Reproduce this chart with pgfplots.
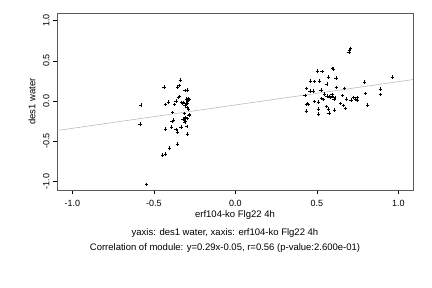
\documentclass[border=0pt]{standalone}
\usepackage{fontspec}
\setmainfont{Liberation Sans}
\usepackage{pgfplots}
\pgfplotsset{compat=1.18}
\begin{document}
\begin{tikzpicture}[x=1pt,y=1pt]
\path[use as bounding box] (0,0) rectangle (432,288);
\begin{axis}[
  at={(57pt,98pt)}, anchor=south west,
  scale only axis, width=356pt, height=177pt,
  xmin=-1.094, xmax=1.09, ymin=-1.106, ymax=1.093,
  axis line style={black!65, line width=0.5pt},
  xtick={-1,-0.5,0,0.5,1}, ytick={-1,-0.5,0,0.5,1},
  tick align=outside, xtick pos=bottom, ytick pos=left,
  major tick length=4pt,
  tick style={black, line width=0.4pt},
  /pgf/number format/assume math mode=true,
  xticklabel={\pgfmathprintnumber[fixed,fixed zerofill,precision=1]{\tick}},
  yticklabel={\pgfmathprintnumber[fixed,fixed zerofill,precision=1]{\tick}},
  ticklabel style={font=\fontsize{9}{10}\selectfont},
  yticklabel style={rotate=90, anchor=south},
  xticklabel style={yshift=-2.5pt},
  clip=true,
]
\addplot[black!30, line width=0.5pt] coordinates {(-1.094,-0.367) (1.09,0.266)};
\addplot[only marks, mark=+, mark size=1.7pt, mark options={line width=0.5pt}] coordinates {
(-0.580,-0.050) (-0.585,-0.286) (-0.546,-1.035) (-0.437,0.174) (-0.429,-0.046)
(-0.429,-0.348) (-0.448,-0.671) (-0.429,-0.658) (-0.404,-0.584) (-0.411,-0.012)
(-0.390,-0.257) (-0.386,-0.141) (-0.378,-0.236) (-0.393,-0.323) (-0.374,-0.046)
(-0.364,-0.352) (-0.356,-0.385) (-0.356,-0.534) (-0.354,0.174) (-0.343,0.195)
(-0.337,0.261) (-0.349,0.046) (-0.343,0.058) (-0.364,0.000) (-0.331,-0.016)
(-0.319,-0.016) (-0.309,0.133) (-0.294,0.137) (-0.333,-0.323) (-0.298,-0.319)
(-0.313,-0.153) (-0.280,-0.170) (-0.322,-0.224) (-0.313,-0.224) (-0.307,-0.207)
(-0.310,-0.270) (-0.305,-0.257) (-0.294,-0.410) (-0.296,-0.220) (-0.284,-0.178)
(-0.310,-0.058) (-0.298,-0.079) (-0.286,-0.100) (-0.305,-0.050) (-0.300,0.025)
(-0.290,0.030) (-0.284,0.017) (-0.292,-0.004) (-0.302,-0.029) (-0.296,-0.029)
(-0.287,0.005) (-0.323,-0.029)
(0.708,0.654) (0.700,0.634) (0.698,0.605) (0.595,0.406) (0.601,0.398)
(0.503,0.373) (0.532,0.364) (0.571,0.298) (0.618,0.286) (0.963,0.298)
(0.460,0.248) (0.485,0.240) (0.515,0.248) (0.561,0.211) (0.792,0.236)
(0.436,0.157) (0.620,0.170) (0.671,0.157) (0.458,0.124) (0.479,0.124)
(0.526,0.137) (0.890,0.149) (0.890,0.083) (0.798,0.095) (0.428,0.070)
(0.546,0.087) (0.561,0.062) (0.593,0.079) (0.597,0.058) (0.610,0.046)
(0.528,0.033) (0.542,0.021) (0.575,0.054) (0.581,0.041) (0.606,0.017)
(0.659,0.066) (0.681,0.025) (0.710,0.012) (0.725,0.046) (0.737,0.025)
(0.751,0.046) (0.751,0.012) (0.485,-0.004) (0.509,-0.012) (0.644,-0.029)
(0.665,-0.054) (0.675,-0.091) (0.812,-0.050) (0.436,-0.041) (0.442,-0.033)
(0.446,-0.046) (0.436,-0.124) (0.509,-0.100) (0.509,-0.161) (0.558,-0.071)
(0.571,-0.100) (0.575,-0.149) (0.607,-0.112)
};
\end{axis}
\node[font=\fontsize{9.5}{10}\selectfont] at (235,73) {erf104-ko Flg22 4h};
\node[font=\fontsize{9.5}{10}\selectfont, rotate=90] at (32,186.5) {des1 water};
\node[font=\fontsize{9.5}{10}\selectfont] at (225,55) {yaxis: des1 water, xaxis: erf104-ko Flg22 4h};
\node[font=\fontsize{9.5}{10}\selectfont] at (225,40) {Correlation of module: y=0.29x-0.05, r=0.56 (p-value:2.600e-01)};
\end{tikzpicture}
\end{document}
